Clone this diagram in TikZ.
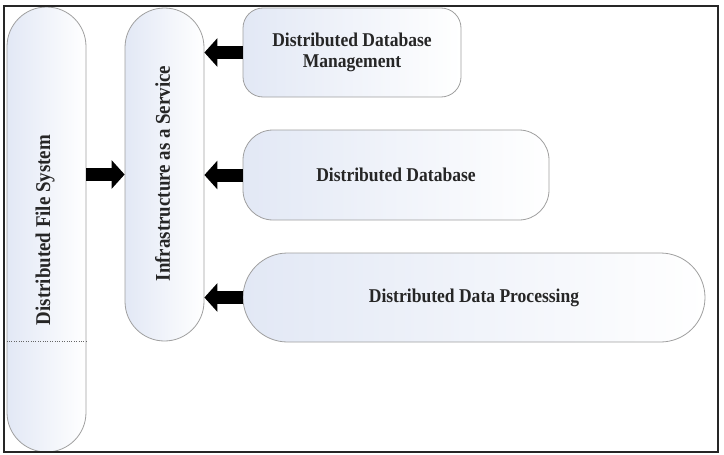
\documentclass[tikz,border=0pt]{standalone}
\usepackage{fontspec}
\setmainfont{Liberation Serif}[FakeStretch=0.9]
\usetikzlibrary{arrows.meta}

\begin{document}
\begin{tikzpicture}[x=1pt, y=-1pt, >=Stealth,
  box/.style={draw=gray!75, line width=0.8pt, rectangle, inner sep=0pt,
    left color={rgb,255:red,226;green,232;blue,245}, right color=white,
    font=\fontsize{19.5}{21}\selectfont\bfseries, text=black!85, align=center},
  label/.style={font=\fontsize{21}{23}\selectfont\bfseries, text=black!85},
  fat/.style={line width=13pt, -{Triangle[length=13pt,width=28pt]}}]

\useasboundingbox (0,0) rectangle (724,455);

% Define the nodes with coordinates
\node[box, minimum width=79pt, minimum height=445pt, rounded corners=39.5pt] (DFS) at (46.5,229.5) {};
\node[box, minimum width=79pt, minimum height=333pt, rounded corners=39.5pt] (IaaS) at (164.5,174.5) {};
\node[box, minimum width=218pt, minimum height=89pt, rounded corners=20pt] (DDM) at (352,52.5) {Distributed Database\\Management};
\node[box, minimum width=306pt, minimum height=90pt, rounded corners=30pt] (DD) at (396,175) {Distributed Database};
\node[box, minimum width=462pt, minimum height=89pt, rounded corners=44.5pt] (DDP) at (474,297.5) {Distributed Data Processing};

% Rotated labels
\node[label, rotate=90] (DFSlabel) at (45,230) {Distributed File System};
\node[label, rotate=90] (IaaSlabel) at (162.5,173.5) {Infrastructure as a Service};

% Dotted split in the file system
\draw[dotted, gray!80!black] (DFS.west |- IaaS.south) -- (DFS.east |- IaaS.south);

% Draw the arrows
\draw[fat] (DFS.east |- IaaS) -- (IaaS.west);
\draw[fat] (DDM.west) -- (DDM.west -| IaaS.east);
\draw[fat] (DD.west) -- (DD.west -| IaaS.east);
\draw[fat] (DDP.west) -- (DDP.west -| IaaS.east);

% Frame
\draw[line width=2pt, black!85] (4,6) rectangle (718,452);
\end{tikzpicture}
\end{document}
